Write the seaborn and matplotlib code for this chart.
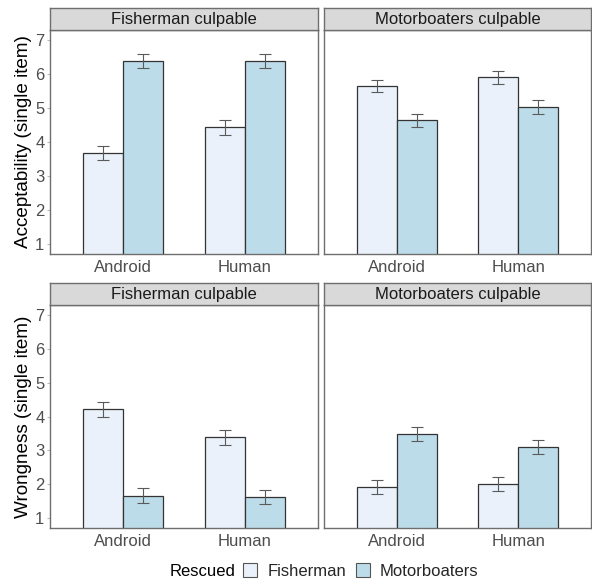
import numpy as np
import pandas as pd
import seaborn as sns
import matplotlib.pyplot as plt
from matplotlib.patches import Patch

sns.set_style("white")
plt.rcParams['font.family'] = ['Liberation Sans', 'DejaVu Sans']

agents = ["Android", "Human"]
rescued = ["Fisherman", "Motorboaters"]
panels = ["Fisherman culpable", "Motorboaters culpable"]

# Acceptability: [panel][agent][rescued]
acc_fish_culp_mean = [[3.68, 6.38], [4.43, 6.39]]
acc_fish_culp_se = [[0.21, 0.21], [0.21, 0.20]]
acc_motor_culp_mean = [[5.65, 4.64], [5.91, 5.03]]
acc_motor_culp_se = [[0.19, 0.19], [0.19, 0.20]]
# Wrongness
wr_fish_culp_mean = [[4.22, 1.65], [3.38, 1.61]]
wr_fish_culp_se = [[0.22, 0.22], [0.22, 0.21]]
wr_motor_culp_mean = [[1.91, 3.48], [2.00, 3.10]]
wr_motor_culp_se = [[0.21, 0.21], [0.21, 0.21]]

ylabels = ["Acceptability (single item)", "Wrongness (single item)"]
yticks = [1, 2, 3, 4, 5, 6, 7]

colors = {"Fisherman": "#EAF1FA", "Motorboaters": "#BDDCE9"}
frame_col = "#6E6E6E"

W, H = 592, 581
fig = plt.figure(figsize=(W / 100, H / 100), dpi=100)

def rect(x0, y0, x1, y1):
    return [x0 / W, 1 - y1 / H, (x1 - x0) / W, (y1 - y0) / H]

layout = [
    [(50, 30, 318, 254), (324, 30, 591, 254)],
    [(50, 305, 318, 528), (324, 305, 591, 528)],
]
strip_h = 22

data_rows = [
    [(acc_fish_culp_mean, acc_fish_culp_se), (acc_motor_culp_mean, acc_motor_culp_se)],
    [(wr_fish_culp_mean, wr_fish_culp_se), (wr_motor_culp_mean, wr_motor_culp_se)],
]

for r in range(2):
    for c in range(2):
        x0, y0, x1, y1 = layout[r][c]
        ax = fig.add_axes(rect(x0, y0, x1, y1))
        means, ses = data_rows[r][c]
        rows = []
        for i, a in enumerate(agents):
            for j, s in enumerate(rescued):
                rows.append({"Agent": a, "Rescued": s, "mean": means[i][j], "se": ses[i][j]})
        df = pd.DataFrame(rows)
        sns.barplot(data=df, x="Agent", y="mean", hue="Rescued", order=agents,
                    hue_order=rescued, palette=colors, width=0.66, errorbar=None,
                    saturation=1, edgecolor="#333333", linewidth=0.9, legend=False, ax=ax)
        # error bars at the bar centres
        for j, s in enumerate(rescued):
            cont = ax.containers[j]
            for i, patch in enumerate(cont.patches):
                xc = patch.get_x() + patch.get_width() / 2
                sub = df[(df.Agent == agents[i]) & (df.Rescued == s)].iloc[0]
                ax.errorbar(xc, sub["mean"], yerr=sub["se"], fmt="none",
                            ecolor="#5A5A5A", elinewidth=0.8, capsize=4.2,
                            capthick=0.8, zorder=5)
        ax.set_ylim(0.7, 7.3)
        ax.set_xlim(-0.6, 1.6)
        ax.set_xlabel("")
        ax.set_ylabel("")
        for sp in ax.spines.values():
            sp.set_color(frame_col)
            sp.set_linewidth(1.0)
        ax.tick_params(axis="x", labelsize=12, labelcolor="#4D4D4D",
                       length=2.5, color="#BBBBBB", pad=2)
        if c == 0:
            ax.set_yticks(yticks)
            ax.tick_params(axis="y", labelsize=12, labelcolor="#4D4D4D",
                           length=2.5, color="#BBBBBB", pad=1.5, left=True)
            ax.set_ylabel(ylabels[r], fontsize=13.6, color="black", labelpad=2)
        else:
            ax.set_yticks(yticks)
            ax.set_yticklabels([])
            ax.tick_params(axis="y", length=0)
        # strip
        sax = fig.add_axes(rect(x0, y0 - strip_h, x1, y0))
        sax.set_facecolor("#D9D9D9")
        sax.set_xticks([])
        sax.set_yticks([])
        for sp in sax.spines.values():
            sp.set_color(frame_col)
            sp.set_linewidth(1.0)
        sax.text(0.5, 0.47, panels[c], ha="center", va="center",
                 fontsize=12, color="#1A1A1A", transform=sax.transAxes)

# legend
fig.text(235 / W, 1 - 571 / H, "Rescued", ha="right", va="center",
         fontsize=12, color="black")
handles = [Patch(facecolor=colors[s], edgecolor="#555555", linewidth=0.8) for s in rescued]
fig.legend(handles, rescued, loc="center left", bbox_to_anchor=(243 / W, 1 - 571 / H),
           ncol=2, frameon=False, fontsize=12, handlelength=0.85, handleheight=0.85,
           handletextpad=0.6, columnspacing=0.6, borderaxespad=0, borderpad=0)

fig.savefig("out.png", dpi=100, facecolor="white")
